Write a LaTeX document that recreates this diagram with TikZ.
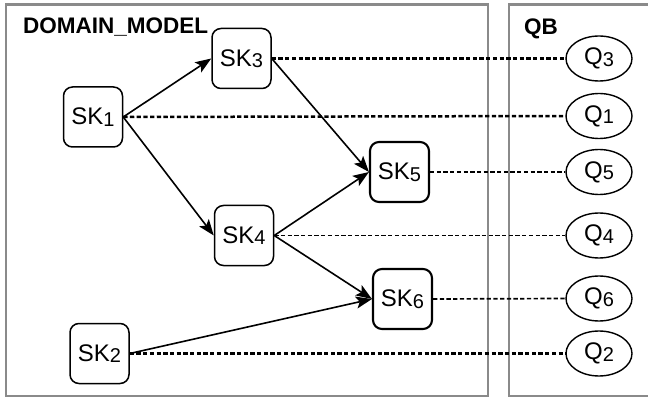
\documentclass[tikz,border=0pt]{standalone}
\usepackage{fontspec}
\setmainfont{Liberation Sans}
\usetikzlibrary{arrows.meta,shapes.geometric}
\definecolor{framegray}{HTML}{8A8A8A}
% lowered, slightly smaller index digit
\newcommand{\ix}[1]{\raisebox{-1.5pt}{\fontsize{20}{20}\selectfont #1}}
\begin{document}
\begin{tikzpicture}[x=1pt,y=-1pt,
  frame/.style={draw=framegray, line width=2.5pt},
  title/.style={anchor=base west, inner sep=0pt, font=\fontsize{22.5}{22.5}\selectfont\bfseries},
  skbox/.style={draw, rounded corners=9pt, minimum width=59pt, minimum height=60pt,
    line width=1.5pt, inner sep=0pt, font=\fontsize{24}{24}\selectfont},
  skheavy/.style={skbox, line width=2.1pt},
  qnode/.style={draw, ellipse, minimum width=66pt, minimum height=45pt,
    line width=1.4pt, inner sep=0pt, font=\fontsize{24}{24}\selectfont},
  link/.style={line width=1.6pt, -{Stealth[length=16pt,width=12pt,inset=3.5pt]}},
  tie/.style={line width=2.5pt, dash pattern=on 4.3pt off 2.4pt},
  tiethin/.style={line width=1.7pt, dash pattern=on 4.3pt off 2.4pt}
]
\path[use as bounding box] (0,0) rectangle (648,398);
\begin{scope}
  \clip (0,0) rectangle (648,398);
  \draw[frame] (6,4.5) rectangle (488,396);
  \draw[frame] (509,4.5) rectangle (662,396);
\end{scope}

\node[title] (dm) at (23,34) {DOMAIN\_MODEL};
\node[title] (qb) at (524,35) {QB};

% skill nodes
\node[skbox] (sk1) at (93,117) {SK\ix{1}};
\node[skbox] (sk3) at (241.5,58.5) {SK\ix{3}};
\node[skbox] (sk4) at (244,235.5) {SK\ix{4}};
\node[skbox] (sk2) at (99.5,353.5) {SK\ix{2}};
\node[skheavy] (sk5) at (399.5,172) {SK\ix{5}};
\node[skheavy] (sk6) at (402.5,299) {SK\ix{6}};

% question nodes
\node[qnode] (q3) at (599,58.5) {Q\ix{3}};
\node[qnode] (q1) at (599,116) {Q\ix{1}};
\node[qnode] (q5) at (599,172) {Q\ix{5}};
\node[qnode] (q4) at (599,235.5) {Q\ix{4}};
\node[qnode] (q6) at (599,298.5) {Q\ix{6}};
\node[qnode] (q2) at (599,353.5) {Q\ix{2}};

% prerequisite arrows
\draw[link] (sk1.east) -- (sk3.west);
\draw[link] (sk1.east) -- (sk4.west);
\draw[link] (sk3.east) -- (sk5.west);
\draw[link] (sk4.east) -- (sk5.west);
\draw[link] (sk4.east) -- (sk6.west);
\draw[link] (sk2.east) -- (sk6.west);

% skill-to-question ties
\draw[tie] (sk3.east) -- (q3.west);
\draw[tie] (sk1.east) -- (q1.west);
\draw[tiethin] (sk5.east) -- (q5.west);
\draw[tiethin] (sk4.east) -- (q4.west);
\draw[tiethin] (sk6.east) -- (q6.west);
\draw[tie] (sk2.east) -- (q2.west);
\end{tikzpicture}
\end{document}
